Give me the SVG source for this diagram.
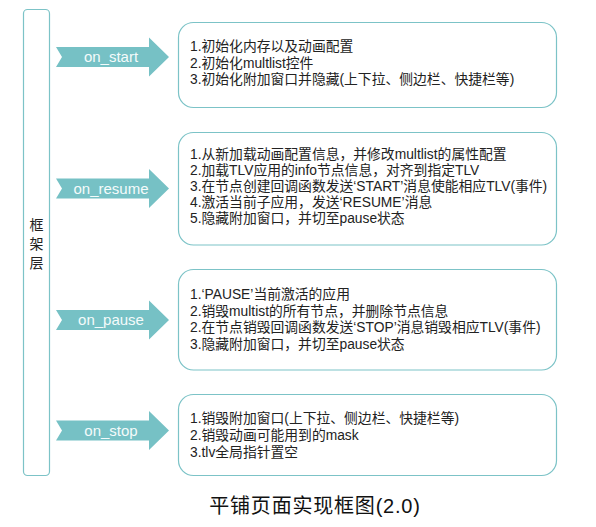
<svg xmlns="http://www.w3.org/2000/svg" width="596" height="527" viewBox="0 0 596 527">
<style>
.frame{fill:#fff;stroke:#7cc3c7;stroke-width:1.2}
.box{fill:#fff;stroke:#7cc3c7;stroke-width:1.2}
.arrow{fill:#76c1c5}
.lbl{font-family:"Liberation Sans","Noto Sans CJK SC",sans-serif;font-size:15px;fill:#f4fbfb;text-anchor:middle}
.t{font-family:"Liberation Sans","Noto Sans CJK SC",sans-serif;font-size:13.8px;fill:#222}
.v{font-family:"Noto Sans CJK SC",sans-serif;font-size:14px;fill:#222;text-anchor:middle}
.title{font-family:"Liberation Sans","Noto Sans CJK SC",sans-serif;font-size:20px;letter-spacing:0.8px;fill:#111;text-anchor:middle}
</style>
<rect width="596" height="527" fill="#fff"/>
<g id="layer">
<rect class="frame" x="23.5" y="9.5" width="26" height="466" rx="4"/>
<text class="v" x="36.5" y="230">框</text>
<text class="v" x="36.5" y="249">架</text>
<text class="v" x="36.5" y="268">层</text>
</g>
<g id="connectors">
<g id="on_start"><path class="arrow" d="M56,47 H149 V37.5 L169,57 L149,76.5 V67 H56 L62,57 Z"/><text class="lbl" x="111" y="62">on_start</text></g>
<g id="on_resume"><path class="arrow" d="M56,178.5 H149 V169 L169,188.5 L149,208 V198.5 H56 L62,188.5 Z"/><text class="lbl" x="111" y="193.5">on_resume</text></g>
<g id="on_pause"><path class="arrow" d="M56,310 H149 V300.5 L169,320 L149,339.5 V330 H56 L62,320 Z"/><text class="lbl" x="111" y="325">on_pause</text></g>
<g id="on_stop"><path class="arrow" d="M56,420.5 H149 V411 L169,430.5 L149,450 V440.5 H56 L62,430.5 Z"/><text class="lbl" x="111" y="435.5">on_stop</text></g>
</g>
<g id="box_start">
<rect class="box" x="178.5" y="22.5" width="378" height="85" rx="15"/>
<text class="t" x="190" y="51">1.初始化内存以及动画配置</text>
<text class="t" x="190" y="67.5">2.初始化multlist控件</text>
<text class="t" x="190" y="84">3.初始化附加窗口并隐藏(上下拉、侧边栏、快捷栏等)</text>
</g>
<g id="box_resume">
<rect class="box" x="178.5" y="132.5" width="378" height="112.5" rx="15"/>
<text class="t" x="190" y="159">1.从新加载动画配置信息，并修改multlist的属性配置</text>
<text class="t" x="190" y="175">2.加载TLV应用的info节点信息，对齐到指定TLV</text>
<text class="t" x="190" y="191">3.在节点创建回调函数发送‘START’消息使能相应TLV(事件)</text>
<text class="t" x="190" y="207">4.激活当前子应用，发送‘RESUME’消息</text>
<text class="t" x="190" y="223">5.隐藏附加窗口，并切至pause状态</text>
</g>
<g id="box_pause">
<rect class="box" x="178.5" y="269.5" width="378" height="100.5" rx="15"/>
<text class="t" x="190" y="299">1.‘PAUSE’当前激活的应用</text>
<text class="t" x="190" y="315.7">2.销毁multist的所有节点，并删除节点信息</text>
<text class="t" x="190" y="332.4">2.在节点销毁回调函数发送‘STOP’消息销毁相应TLV(事件)</text>
<text class="t" x="190" y="349">3.隐藏附加窗口，并切至pause状态</text>
</g>
<g id="box_stop">
<rect class="box" x="178.5" y="394.5" width="378" height="81" rx="15"/>
<text class="t" x="190" y="423">1.销毁附加窗口(上下拉、侧边栏、快捷栏等)</text>
<text class="t" x="190" y="440">2.销毁动画可能用到的mask</text>
<text class="t" x="190" y="457">3.tlv全局指针置空</text>
</g>
<text class="title" x="315" y="513">平铺页面实现框图(2.0)</text>
</svg>
